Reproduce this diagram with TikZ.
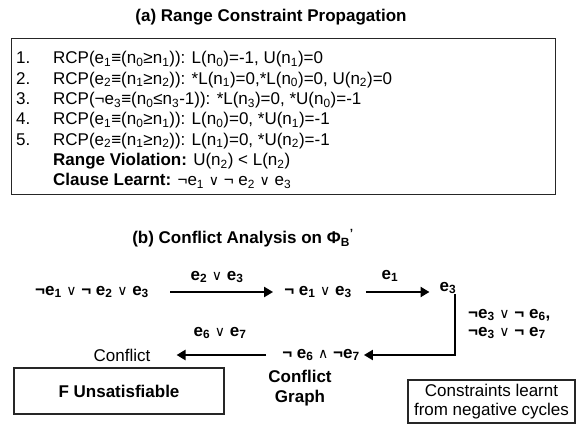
\documentclass[tikz,border=0pt]{standalone}
\usepackage{fontspec}
\setmainfont{Liberation Sans}
\newfontfamily\dv{DejaVu Sans}
\usetikzlibrary{arrows.meta}
\newcommand{\vOr}{{\fontsize{14}{14}\dv\mdseries ∨}}
\newcommand{\wAnd}{{\fontsize{14}{14}\dv\mdseries ∧}}
\newcommand{\sbt}[1]{\textsubscript{#1}}
\tikzset{
  txt/.style={inner sep=0pt, font=\fontsize{17}{20}\selectfont},
  btxt/.style={txt, font=\fontsize{17}{20}\selectfont\bfseries},
  frame/.style={draw=black!85, line width=1.4pt, inner sep=0pt},
  arr/.style={line width=2.7pt, -{Triangle[length=9pt,width=10pt]}},
}
\begin{document}
\begin{tikzpicture}[x=1pt,y={(0pt,-1pt)}]
\useasboundingbox (0,0) rectangle (576,425);
% (a)
\node[btxt] (ta) at (271,17) {(a) Range Constraint Propagation};
\node[frame, anchor=north west, minimum width=544pt, minimum height=156pt] (boxA) at (11,38) {};
\node[txt, anchor=base west] (n1) at (16,64) {1.};
\node[txt, anchor=base west] (n2) at (16,84.3) {2.};
\node[txt, anchor=base west] (n3) at (16,104.6) {3.};
\node[txt, anchor=base west] (n4) at (16,124.9) {4.};
\node[txt, anchor=base west] (n5) at (16,145.2) {5.};
\node[txt, anchor=base west] (r1) at (53,64) {RCP(e\sbt{1}≡(n\sbt{0}≥n\sbt{1})): L(n\sbt{0})=-1, U(n\sbt{1})=0};
\node[txt, anchor=base west] (r2) at (53,84.3) {RCP(e\sbt{2}≡(n\sbt{1}≥n\sbt{2})): *L(n\sbt{1})=0,*L(n\sbt{0})=0, U(n\sbt{2})=0};
\node[txt, anchor=base west] (r3) at (53,104.6) {RCP(¬e\sbt{3}≡(n\sbt{0}≤n\sbt{3}-1)): *L(n\sbt{3})=0, *U(n\sbt{0})=-1};
\node[txt, anchor=base west] (r4) at (53,124.9) {RCP(e\sbt{1}≡(n\sbt{0}≥n\sbt{1})): L(n\sbt{0})=0, *U(n\sbt{1})=-1};
\node[txt, anchor=base west] (r5) at (53,145.2) {RCP(e\sbt{2}≡(n\sbt{1}≥n\sbt{2})): L(n\sbt{1})=0, *U(n\sbt{2})=-1};
\node[txt, anchor=base west] (r6) at (53,165.5) {\textbf{Range Violation:} U(n\sbt{2}) < L(n\sbt{2})};
\node[txt, anchor=base west] (r7) at (53,185.8) {\textbf{Clause Learnt:} ¬e\sbt{1} \vOr{} ¬ e\sbt{2} \vOr{} e\sbt{3}};
% (b)
\node[btxt] (tb) at (243,238) {(b) Conflict Analysis on Φ\sbt{B}\textsuperscript{'}};
\node[btxt] (c1) at (92,292) {¬e\sbt{1} \vOr{} ¬ e\sbt{2} \vOr{} e\sbt{3}};
\node[btxt] (c2) at (318,292) {¬ e\sbt{1} \vOr{} e\sbt{3}};
\node[btxt] (c3) at (448,288) {e\sbt{3}};
\node[btxt] (c5) at (321,355) {¬ e\sbt{6} \wAnd{} ¬e\sbt{7}};
\node[txt] (c6) at (122,355) {Conflict};
\node[btxt] (l12) at (217,277) {e\sbt{2} \vOr{} e\sbt{3}};
\node[btxt] (l23) at (390,276) {e\sbt{1}};
\node[btxt] (l56) at (220,333) {e\sbt{6} \vOr{} e\sbt{7}};
\node[btxt, anchor=north west, align=left, font=\fontsize{17}{18}\selectfont\bfseries] (lc) at (468,309) {¬e\sbt{3} \vOr{} ¬ e\sbt{6},\\¬e\sbt{3} \vOr{} ¬ e\sbt{7}};
\draw[arr, shorten <=21pt, shorten >=11pt] (c1) -- (c2);
\draw[arr, shorten <=14pt, shorten >=10pt] (c2.east) -- (c3.west |- c2.east);
\draw[arr, shorten >=4pt] ([xshift=7pt]c3.south) |- (c5);
\draw[arr, shorten <=16pt, shorten >=26pt] (c5) -- (c6);
\node[frame, btxt, minimum width=210pt, minimum height=46pt] (fu) at (119,391) {F Unsatisfiable};
\node[btxt, align=center] (cg) at (300,388) {Conflict\\Graph};
\node[frame, txt, align=center, minimum width=167pt, minimum height=43pt, font=\fontsize{17}{19}\selectfont] (cl) at (491.5,401.5) {Constraints learnt\\from negative cycles};
\end{tikzpicture}
\end{document}
